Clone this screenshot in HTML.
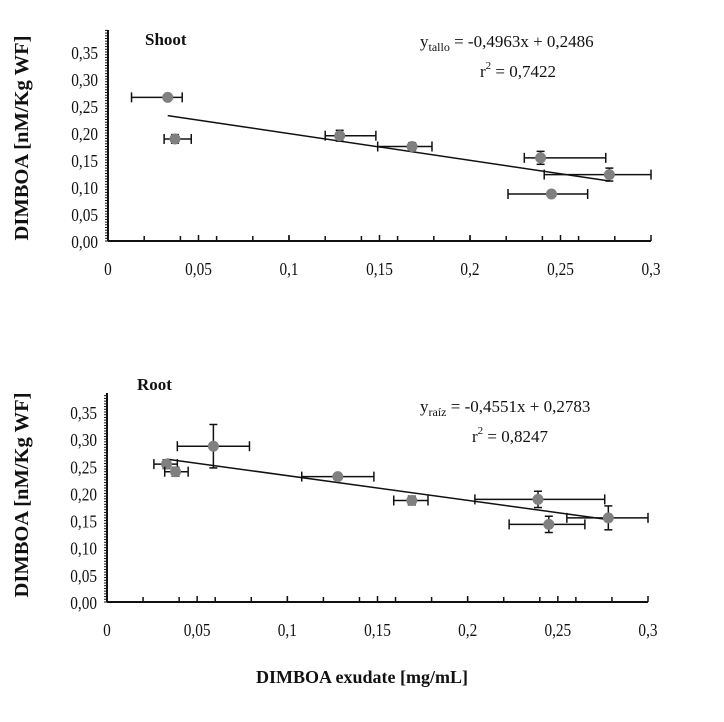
<!DOCTYPE html>
<html><head><meta charset="utf-8"><style>
body{margin:0;background:#fff;}
svg text{font-family:"Liberation Serif",serif;fill:#111;}
</style></head><body>
<svg id="c" width="724" height="717" xmlns="http://www.w3.org/2000/svg"></svg>
<script>
const xTicks=[0,0.05,0.1,0.15,0.2,0.25,0.3];
const xTickLabels=["0","0,05","0,1","0,15","0,2","0,25","0,3"];
const yTicks=[0,0.05,0.1,0.15,0.2,0.25,0.3,0.35];
const yTickLabels=["0,00","0,05","0,10","0,15","0,20","0,25","0,30","0,35"];
const shootX=[0.033,0.037,0.128,0.168,0.239,0.245,0.277];
const shootY=[0.266,0.189,0.195,0.175,0.154,0.087,0.123];
const shootXLo=[0.013,0.031,0.120,0.149,0.230,0.221,0.241];
const shootXHi=[0.041,0.046,0.148,0.179,0.275,0.265,0.300];
const shootYErr=[0.005,0.008,0.010,0.007,0.012,0.004,0.012];
const shootFit=[-0.4963,0.2486];
const rootX=[0.033,0.038,0.059,0.128,0.169,0.239,0.245,0.278];
const rootY=[0.254,0.240,0.287,0.231,0.187,0.189,0.143,0.155];
const rootXLo=[0.026,0.032,0.039,0.108,0.159,0.204,0.223,0.255];
const rootXHi=[0.039,0.045,0.079,0.148,0.178,0.276,0.265,0.300];
const rootYErr=[0.008,0.008,0.040,0.005,0.008,0.015,0.015,0.022];
const rootFit=[-0.4551,0.2783];

const NS="http://www.w3.org/2000/svg";
const svg=document.getElementById('c');
function mk(tag,attrs,parent){const e=document.createElementNS(NS,tag);for(const k in attrs)e.setAttribute(k,attrs[k]);(parent||svg).appendChild(e);return e;}

function panel(cfg){
  const g=mk('g',{});
  
  
  const sx=v=>cfg.x0+(v/0.3)*(cfg.x1-cfg.x0);
  const sy=v=>cfg.y0-(v/0.35)*(cfg.y0-cfg.y35);
  const ya=mk('line',{x1:cfg.x0,y1:cfg.y0,x2:cfg.x0,y2:cfg.ytop,stroke:'#111','stroke-width':2},g);
  
  
  const xa=mk('line',{x1:cfg.x0,y1:cfg.y0,x2:cfg.x1,y2:cfg.y0,stroke:'#111','stroke-width':2},g);
  
  
  for(let v=0;sy(v)>=cfg.ytop;v+=0.005){mk('line',{x1:cfg.x0-3,x2:cfg.x0,y1:sy(v),y2:sy(v),stroke:'#111','stroke-width':1},g);}
  for(let v=0.02;v<0.3;v+=0.02){mk('line',{x1:sx(v),x2:sx(v),y1:cfg.y0,y2:cfg.y0-5,stroke:'#111','stroke-width':1.5},g);}
  for(let v=0.05;v<=0.3001;v+=0.05){mk('line',{x1:sx(v),x2:sx(v),y1:cfg.y0,y2:cfg.y0-6,stroke:'#111','stroke-width':1.5},g);}
  xTicks.forEach((v,i)=>{const t=mk('text',{x:sx(v),y:cfg.y0+34,'text-anchor':'middle','font-size':18,transform:`translate(${sx(v)*0.15},0) scale(0.85,1)`},g);t.textContent=xTickLabels[i];
    
    });
  yTicks.forEach((v,i)=>{const xx=cfg.x0-10;const t=mk('text',{x:xx,y:sy(v)+7,'text-anchor':'end','font-size':18,transform:`translate(${xx*0.15},0) scale(0.85,1)`},g);t.textContent=yTickLabels[i];
    
    });
  const yt=mk('text',{x:0,y:0,transform:`translate(28,${cfg.ytitleY}) rotate(-90)`,'text-anchor':'middle','font-size':20,'font-weight':'bold',textLength:205,lengthAdjust:'spacingAndGlyphs'},g);
  yt.textContent='DIMBOA  [nM/Kg WF]';
  
  
  const xs=cfg.X, ys=cfg.Y;
  const xmin=Math.min(...xs), xmax=Math.max(...xs);
  const fl=mk('line',{x1:sx(xmin),y1:sy(cfg.fit[0]*xmin+cfg.fit[1]),x2:sx(xmax),y2:sy(cfg.fit[0]*xmax+cfg.fit[1]),stroke:'#111','stroke-width':1.5},g);
  
  
  xs.forEach((x,i)=>{
    const eg=mk('g',{stroke:'#111','stroke-width':1.5},g);
    
    
    const y=ys[i];
    mk('line',{x1:sx(cfg.xlo[i]),x2:sx(cfg.xhi[i]),y1:sy(y),y2:sy(y)},eg);
    mk('line',{x1:sx(cfg.xlo[i]),x2:sx(cfg.xlo[i]),y1:sy(y)-5,y2:sy(y)+5},eg);
    mk('line',{x1:sx(cfg.xhi[i]),x2:sx(cfg.xhi[i]),y1:sy(y)-5,y2:sy(y)+5},eg);
    mk('line',{x1:sx(x),x2:sx(x),y1:sy(y-cfg.ye[i]),y2:sy(y+cfg.ye[i])},eg);
    mk('line',{x1:sx(x)-4,x2:sx(x)+4,y1:sy(y-cfg.ye[i]),y2:sy(y-cfg.ye[i])},eg);
    mk('line',{x1:sx(x)-4,x2:sx(x)+4,y1:sy(y+cfg.ye[i]),y2:sy(y+cfg.ye[i])},eg);
    const p=mk('circle',{cx:sx(x),cy:sy(y),r:5.5,fill:'#808080'},g);
    
    
  });
  const tt=mk('text',{x:cfg.titleX,y:cfg.titleY,'font-size':17,'font-weight':'bold'},g);
  tt.textContent=cfg.title;
  
  
  const eq=mk('text',{x:cfg.eqX,y:cfg.eqY,'font-size':17},g);
  eq.innerHTML=cfg.eqHtml;
  
  
  const r2=mk('text',{x:cfg.r2X,y:cfg.eqY+30,'font-size':17},g);
  r2.innerHTML='r<tspan dy="-8" font-size="11">2</tspan><tspan dy="8"> = '+cfg.r2+'</tspan>';
  
  
}
panel({name:'shoot',x0:108,x1:651,y0:241,y35:52,ytop:30,ytitleY:138,X:shootX,Y:shootY,xlo:shootXLo,xhi:shootXHi,ye:shootYErr,fit:shootFit,
  title:'Shoot',titleX:145,titleY:45,eqX:420,eqY:47,r2X:480,r2:'0,7422',
  eqHtml:'y<tspan dy="4" font-size="12">tallo</tspan><tspan dy="-4"> = -0,4963x + 0,2486</tspan>'});
panel({name:'root',x0:107,x1:648,y0:602,y35:412,ytop:393,ytitleY:495,X:rootX,Y:rootY,xlo:rootXLo,xhi:rootXHi,ye:rootYErr,fit:rootFit,
  title:'Root',titleX:137,titleY:390,eqX:420,eqY:412,r2X:472,r2:'0,8247',
  eqHtml:'y<tspan dy="4" font-size="12">raíz</tspan><tspan dy="-4"> = -0,4551x + 0,2783</tspan>'});
const xt=mk('text',{x:362,y:683,'text-anchor':'middle','font-size':18,'font-weight':'bold'});
xt.textContent='DIMBOA exudate [mg/mL]';


</script>
</body></html>
